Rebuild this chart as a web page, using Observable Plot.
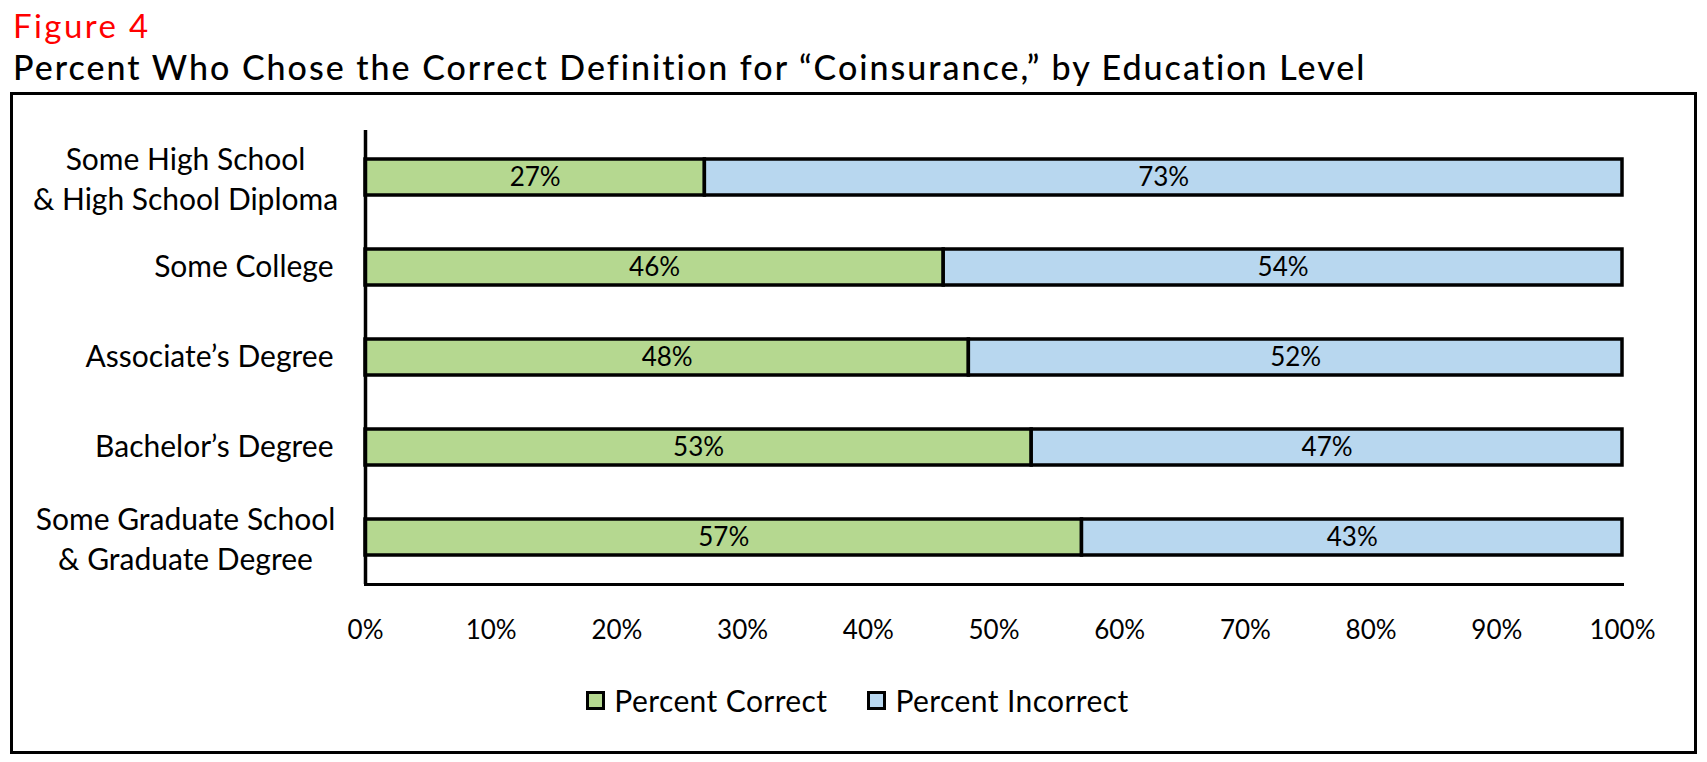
<!DOCTYPE html>
<html>
<head>
<meta charset="utf-8">
<script src="https://cdn.jsdelivr.net/npm/d3@7"></script>
<script src="https://cdn.jsdelivr.net/npm/@observablehq/plot@0.6"></script>
<style>
  html, body { margin: 0; padding: 0; background: #fff; }
  body { font-family: Lato, "Open Sans", sans-serif; color: #000; width: 1707px; height: 762px; position: relative; overflow: hidden; }
  #figlabel { position: absolute; left: 13px; top: 9px; font-size: 33px; line-height: 33px; letter-spacing: 2.4px; color: #ff0000; white-space: nowrap; }
  #title { position: absolute; left: 13px; top: 50px; font-size: 34px; line-height: 34px; font-weight: 500; letter-spacing: 2px; white-space: nowrap; }
  #frame { position: absolute; left: 10px; top: 92px; width: 1687px; height: 662px; border: 3px solid #000; box-sizing: border-box; }
  #chart svg { display: block; }
  #legend { display: flex; justify-content: center; align-items: center; margin-top: 30px; padding-left: 8px; font-size: 30px; line-height: 30px; letter-spacing: 0.4px; }
  .item { display: flex; align-items: center; margin: 0 20px; }
  .sw { width: 19px; height: 19px; border: 3px solid #000; box-sizing: border-box; margin-right: 9px; }
</style>
</head>
<body>
<div id="figlabel">Figure 4</div>
<div id="title">Percent Who Chose the Correct Definition for “Coinsurance,” by Education Level</div>
<div id="frame">
  <div id="chart"></div>
  <div id="legend"></div>
</div>
<script>
const categories = [
  "Some High School\n& High School Diploma",
  "Some College",
  "Associate’s Degree",
  "Bachelor’s Degree",
  "Some Graduate School\n& Graduate Degree"
];
const series = ["Percent Correct", "Percent Incorrect"];
const correct = [27, 46, 48, 53, 57];
const incorrect = [73, 54, 52, 47, 43];
const seriesColors = ["#b5d890", "#b8d7ef"];
const xTicks = [0, 10, 20, 30, 40, 50, 60, 70, 80, 90, 100];

const data = [];
categories.forEach((c, i) => {
  data.push({cat: c, series: series[0], value: correct[i]});
  data.push({cat: c, series: series[1], value: incorrect[i]});
});
const singleLine = categories.filter(c => !c.includes("\n"));
const multiLine = categories.filter(c => c.includes("\n"));

const plot = Plot.plot({
  width: 1681,
  height: 560,
  marginLeft: 352,
  marginRight: 72,
  marginTop: 35,
  marginBottom: 71,
  style: {fontFamily: "Lato, 'Open Sans', sans-serif", background: "transparent", color: "#000"},
  x: {domain: [0, 100], axis: null},
  y: {domain: categories, paddingInner: 0.6, paddingOuter: 0.3, axis: null},
  color: {domain: series, range: seriesColors},
  marks: [
    Plot.barX(data, {y: "cat", x: "value", fill: "series", stroke: "#000", strokeWidth: 3.5}),
    Plot.text(data, Plot.stackX({y: "cat", x: "value", text: d => d.value + "%", fontSize: 26, fill: "#000"})),
    Plot.ruleX([0], {stroke: "#000", strokeWidth: 3.5}),
    Plot.frame({anchor: "bottom", stroke: "#000", strokeWidth: 3}),
    Plot.axisX({ticks: xTicks, tickSize: 0, tickPadding: 36, tickFormat: d => d + "%", fontSize: 26, label: null}),
    Plot.text(singleLine, {y: d => d, text: d => d, frameAnchor: "left", textAnchor: "end", dx: -32, fontSize: 30, fill: "#000"}),
    Plot.text(multiLine, {y: d => d, text: d => d, frameAnchor: "left", textAnchor: "middle", dx: -180, fontSize: 30, lineHeight: 1.33, fill: "#000"})
  ]
});
document.getElementById("chart").appendChild(plot);

const legend = document.getElementById("legend");
series.forEach((s, i) => {
  const item = document.createElement("div");
  item.className = "item";
  const sw = document.createElement("div");
  sw.className = "sw";
  sw.style.background = seriesColors[i];
  const label = document.createElement("span");
  label.textContent = s;
  item.appendChild(sw);
  item.appendChild(label);
  legend.appendChild(item);
});
</script>
</body>
</html>
